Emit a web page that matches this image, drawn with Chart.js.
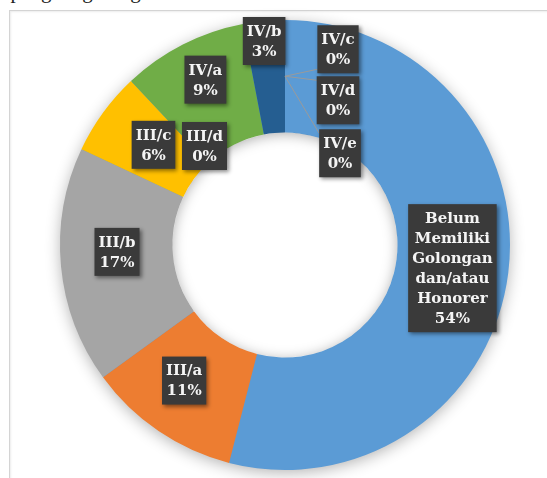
<!DOCTYPE html>
<html>
<head>
<meta charset="utf-8">
<script src="https://cdn.jsdelivr.net/npm/chart.js@4.4.0/dist/chart.umd.min.js"></script>
<style>
    html, body { margin: 0; padding: 0; background: #fff; overflow: hidden; }
    #wrap { position: relative; width: 547px; height: 478px; overflow: hidden; }
    #topText {
        position: absolute; left: -4px; top: -21px;
        font: 21px 'Liberation Serif', serif; color: #222; white-space: nowrap;
    }
    #frame {
        position: absolute; left: 9px; top: 10px; width: 560px; height: 480px;
        border-left: 1px solid #d4d4d4; border-top: 1px solid #d4d4d4;
        box-shadow: inset 1px 1px 2px rgba(0, 0, 0, 0.08);
        background: #fff;
    }
    #golongan { position: absolute; left: 0; top: 0; }
</style>
</head>
<body>
<div id="wrap">
    <div id="topText">a pangkat golongan</div>
    <div id="frame"></div>
    <canvas id="golongan" width="547" height="478"></canvas>
</div>
<script>
const categories = [
    'Belum Memiliki Golongan dan/atau Honorer',
    'III/a',
    'III/b',
    'III/c',
    'III/d',
    'IV/a',
    'IV/b',
    'IV/c',
    'IV/d',
    'IV/e'
];
const percentages = [54, 11, 17, 6, 0, 9, 3, 0, 0, 0];
const sliceColors = [
    '#5B9BD5', '#ED7D31', '#A5A5A5', '#FFC000', '#4472C4',
    '#70AD47', '#255E91', '#9E480E', '#636363', '#997300'
];

// label nudges away from the slice centre (Excel moved the crowded ones)
const labelShift = [
    [0, 2], [-6, -4], [0, -9], [5, -1], [35, 24],
    [-3, -15], [-5, -36], [53, -27], [53, 24], [55, 77]
];
const withLeader = [false, false, false, false, false, false, false, true, true, true];

const ringShadow = {
    id: 'ringShadow',
    beforeDatasetsDraw(chart) {
        const arc = chart.getDatasetMeta(0).data[0];
        const ctx = chart.ctx;
        ctx.save();
        ctx.shadowColor = 'rgba(0, 0, 0, 0.32)';
        ctx.shadowBlur = 16;
        ctx.shadowOffsetY = 3;
        ctx.fillStyle = '#5B9BD5';
        ctx.beginPath();
        ctx.arc(arc.x, arc.y, arc.outerRadius - 1, 0, Math.PI * 2);
        ctx.fill();
        ctx.restore();
        // clear the hole again
        ctx.save();
        ctx.fillStyle = '#fff';
        ctx.beginPath();
        ctx.arc(arc.x, arc.y, arc.innerRadius + 1, 0, Math.PI * 2);
        ctx.fill();
        ctx.restore();
    },
    afterDatasetsDraw(chart) {
        const meta = chart.getDatasetMeta(0);
        const ctx = chart.ctx;
        const first = meta.data[0];
        const r = first.innerRadius;

        // soft shadow inside the hole
        ctx.save();
        ctx.beginPath();
        ctx.arc(first.x, first.y, r, 0, Math.PI * 2);
        ctx.clip();
        ctx.beginPath();
        ctx.rect(first.x - r - 200, first.y - r - 200, 2 * r + 400, 2 * r + 400);
        ctx.arc(first.x, first.y, r + 1, 0, Math.PI * 2, true);
        ctx.shadowColor = 'rgba(0, 0, 0, 0.35)';
        ctx.shadowBlur = 14;
        ctx.shadowOffsetY = 2;
        ctx.fillStyle = '#fff';
        ctx.fill('evenodd');
        ctx.restore();

        // data labels
        const total = percentages.reduce((a, b) => a + b, 0);
        ctx.save();
        ctx.font = 'bold 15px "DejaVu Serif", serif';
        ctx.textAlign = 'center';
        ctx.textBaseline = 'middle';
        const lineH = 20;
        const pad = 4;
        meta.data.forEach((el, i) => {
            const p = el.getCenterPoint(true);
            const cx = p.x + labelShift[i][0];
            const cy = p.y + labelShift[i][1];
            const lines = categories[i].split(' ');
            lines.push(Math.round(percentages[i] / total * 100) + '%');
            const w = Math.max(...lines.map(t => ctx.measureText(t).width)) + pad * 2;
            const h = lines.length * lineH + pad * 2;
            const bx = cx - w / 2;
            const by = cy - h / 2;

            if (withLeader[i]) {
                ctx.strokeStyle = '#9a9a9a';
                ctx.lineWidth = 1;
                ctx.beginPath();
                ctx.moveTo(p.x, p.y);
                ctx.lineTo(bx, Math.min(Math.max(p.y, by + 4), by + h - 4));
                ctx.stroke();
            }

            ctx.save();
            ctx.shadowColor = 'rgba(0, 0, 0, 0.45)';
            ctx.shadowBlur = 4;
            ctx.shadowOffsetX = 2;
            ctx.shadowOffsetY = 2;
            ctx.fillStyle = '#3a3a3a';
            ctx.fillRect(bx, by, w, h);
            ctx.restore();

            ctx.fillStyle = '#f4f4f4';
            lines.forEach((t, k) => {
                ctx.fillText(t, cx, by + pad + lineH * k + lineH / 2 + 1);
            });
        });
        ctx.restore();
    }
};

const ctx = document.getElementById('golongan').getContext('2d');

new Chart(ctx, {
    type: 'doughnut',
    data: {
        labels: categories,
        datasets: [{
            data: percentages,
            backgroundColor: sliceColors,
            borderWidth: 0
        }]
    },
    options: {
        responsive: false,
        animation: false,
        cutout: '50%',
        layout: {
            padding: { left: 60, right: 37, top: 20, bottom: 8 }
        },
        plugins: {
            legend: { display: false },
            tooltip: { enabled: false }
        }
    },
    plugins: [ringShadow]
});
</script>
</body>
</html>
